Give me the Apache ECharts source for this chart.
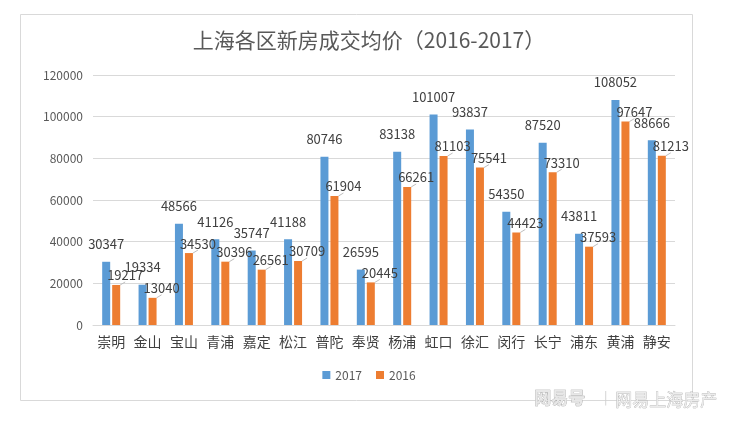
<!DOCTYPE html>
<html><head><meta charset="utf-8">
<script src="https://cdn.jsdelivr.net/npm/echarts@6/dist/echarts.min.js"></script>
<style>html,body{margin:0;padding:0;background:#fff}#c{width:738px;height:422px}</style>
</head><body><div id="c"></div>
<script>
const categories = ['崇明','金山','宝山','青浦','嘉定','松江','普陀','奉贤','杨浦','虹口','徐汇','闵行','长宁','浦东','黄浦','静安'];
const values2017 = [30347,19334,48566,41126,35747,41188,80746,26595,83138,101007,93837,54350,87520,43811,108052,88666];
const values2016 = [19217,13040,34530,30396,26561,30709,61904,20445,66261,81103,75541,44423,73310,37593,97647,81213];
const yTicks = [0,20000,40000,60000,80000,100000,120000];

const FONT = '"Noto Sans CJK SC", "Noto Sans", sans-serif';
const chart = echarts.init(document.getElementById('c'), null, {renderer:'canvas'});
chart.setOption({
  animation: false,
  backgroundColor: '#fff',
  textStyle: {fontFamily: FONT},
  title: {
    text: '上海各区新房成交均价（2016-2017）',
    left: 'center', top: 25,
    textStyle: {fontSize: 21, fontWeight: 'normal', color: '#595959', fontFamily: FONT}
  },
  legend: {
    bottom: 36, left: 'center',
    itemWidth: 8, itemHeight: 8, itemGap: 14,
    icon: 'rect',
    textStyle: {fontSize: 12, color: '#595959', fontFamily: FONT},
    data: ['2017','2016']
  },
  grid: {left: 93, right: 63, top: 75, bottom: 97, containLabel: false},
  xAxis: {
    type: 'category', data: categories,
    axisLine: {lineStyle: {color: '#d9d9d9'}},
    axisTick: {show: false},
    axisLabel: {interval: 0, fontSize: 14, color: '#404040', margin: 10, fontFamily: FONT}
  },
  yAxis: {
    type: 'value', min: yTicks[0], max: yTicks[yTicks.length-1], interval: 20000,
    axisLine: {show: false}, axisTick: {show: false},
    splitLine: {lineStyle: {color: '#d9d9d9'}},
    axisLabel: {fontSize: 12, color: '#595959', margin: 10, fontFamily: FONT, formatter: v => String(v)}
  },
  series: [
    {
      name: '2017', type: 'bar', data: values2017,
      barWidth: 8, barGap: '25%',
      itemStyle: {color: '#5B9BD5'},
      label: {show: true, position: 'top', distance: 11, fontSize: 13, color: '#404040', fontFamily: FONT}
    },
    {
      name: '2016', type: 'bar', data: values2016,
      barWidth: 8,
      itemStyle: {color: '#ED7D31'},
      label: {show: true, position: 'top', distance: 3, fontSize: 13, color: '#404040', fontFamily: FONT},
      labelLayout: {dx: 9},
      labelLine: {show: true, lineStyle: {color: '#bfbfbf', width: 1}}
    }
  ],
  graphic: [
    {type: 'rect', shape: {x: 20.5, y: 14.5, width: 672, height: 386}, style: {fill: null, stroke: '#d9d9d9', lineWidth: 1}, z: -1},
    {type: 'text', left: 534, top: 389, style: {text: '网易号', fontSize: 17, fontWeight: 'bold', fill: '#e8e8e8', stroke: '#9a9a9a', lineWidth: 0.6, fontFamily: FONT}},
    {type: 'text', left: 604, top: 391, style: {text: '|', fontSize: 13, fill: '#cfcfcf', fontFamily: FONT}},
    {type: 'text', left: 615, top: 391, style: {text: '网易上海房产', fontSize: 17, fill: '#ececec', stroke: '#a0a0a0', lineWidth: 0.5, fontFamily: FONT}}
  ]
});
</script></body></html>
